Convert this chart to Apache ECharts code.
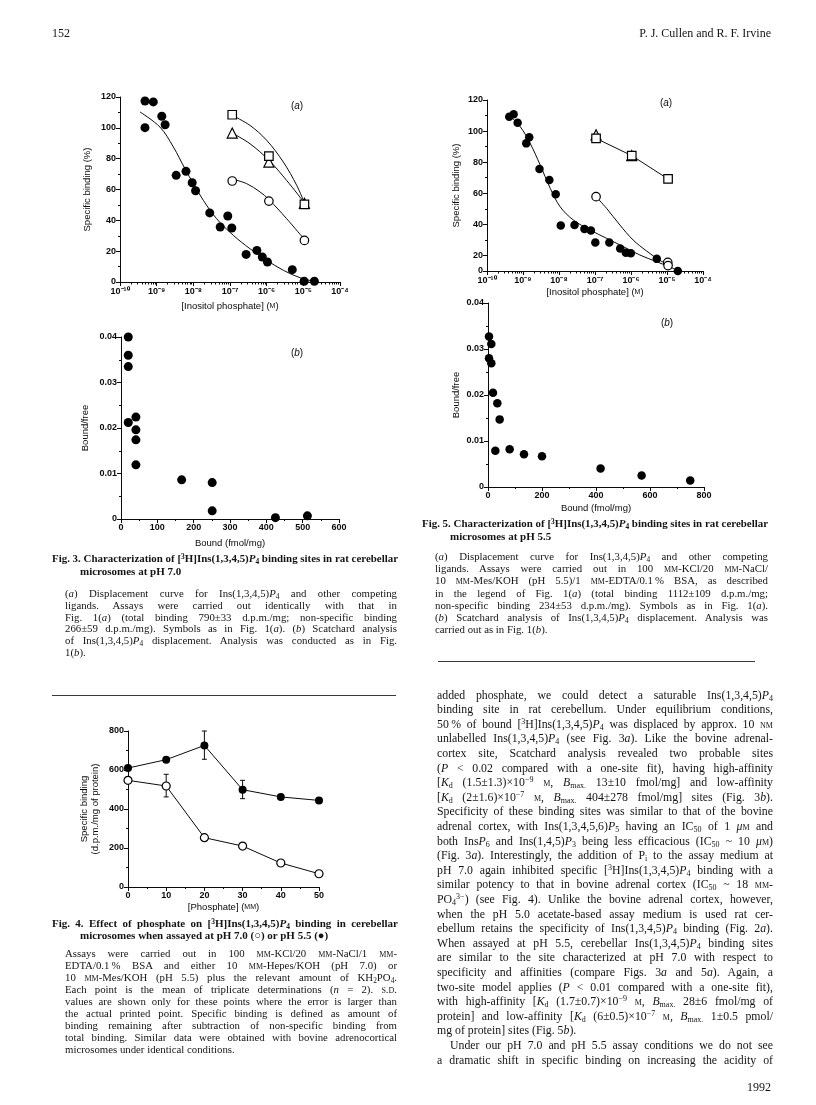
<!DOCTYPE html>
<html><head><meta charset="utf-8">
<script src="https://cdn.jsdelivr.net/npm/echarts@6/dist/echarts.min.js"></script>
<style>
html,body{margin:0;padding:0;background:#fff;}
#page{position:relative;width:816px;height:1105px;overflow:hidden;background:#fff;}
#chart{position:absolute;left:0;top:0;width:816px;height:1105px;}
#text{position:absolute;left:0;top:0;width:816px;height:1105px;pointer-events:none;}
.ln{position:absolute;white-space:nowrap;font-family:"Liberation Serif","Times New Roman",serif;color:#141414;line-height:14px;transform-origin:0 50%;}
.ln sub{font-size:0.68em;vertical-align:-0.28em;line-height:0;}
.ln sup{font-size:0.68em;vertical-align:0.45em;line-height:0;}
.sc{font-variant:small-caps;}
.rule{position:absolute;height:1px;background:#3a3a3a;}
</style></head>
<body><div id="page"><div id="chart"></div><div id="text"></div></div>
<script>
// ---------------- DATA ----------------
// Fig. 3(a) pH 7.0 displacement (concentration in M, specific binding %)
const f3aInsP4X = [4.8e-10, 8.1e-10, 4.8e-10, 1.38e-9, 1.7e-9, 3.4e-9, 6.3e-9, 9.3e-9, 1.15e-8, 2.8e-8, 5.4e-8, 8.7e-8, 1.12e-7, 2.75e-7, 5.4e-7, 7.6e-7, 1.05e-6, 5.0e-6, 1.05e-5, 2.0e-5];
const f3aInsP4Y = [117.4, 116.8, 100.1, 107.5, 102, 69.2, 71.8, 64.4, 59.2, 44.8, 35.7, 42.8, 35, 17.9, 20.5, 16.2, 13, 8, 0.5, 0.5];
const f3aInsP4FitX = [3.5e-10, 1.23e-9, 2.85e-9, 5.9e-9, 1e-8, 1.87e-8, 4.3e-8, 1.23e-7, 3.5e-7, 1e-6, 2.85e-6, 8.1e-6, 2.3e-5];
const f3aInsP4FitY = [110.3, 100.5, 87.6, 73.5, 63.8, 53, 41.1, 30.3, 21.6, 14.1, 7.6, 2.8, 0];
const f3aSquareX = [1.15e-7, 1.15e-6, 1.07e-5];
const f3aSquareY = [108.5, 81.7, 50.4];
const f3aSquareFitX = [1.23e-7, 3.5e-7, 1e-6, 2.85e-6, 6.6e-6, 1.06e-5];
const f3aSquareFitY = [107.7, 101.6, 91.9, 77.8, 62.7, 51.5];
const f3aTriX = [1.15e-7, 1.15e-6, 1.07e-5];
const f3aTriY = [96.6, 77.8, 51];
const f3aTriFitX = [1.23e-7, 3.5e-7, 1.16e-6, 3.5e-6, 1.06e-5];
const f3aTriFitY = [96.2, 89.7, 78.9, 65.9, 51.5];
const f3aCircX = [1.15e-7, 1.15e-6, 1.07e-5];
const f3aCircY = [65.5, 52.5, 27];
const f3aCircFitX = [1.29e-7, 2.85e-7, 6.6e-7, 1.16e-6, 3.5e-6, 1.06e-5];
const f3aCircFitY = [66.4, 63.8, 58.4, 53.4, 41.1, 27.7];

// Fig. 3(b) Scatchard pH 7.0
const f3bBound = [20, 20, 20, 20, 41, 41, 41, 41, 167, 251, 251, 425, 513];
const f3bRatio = [0.0400, 0.0360, 0.0335, 0.0212, 0.0224, 0.0196, 0.0174, 0.0119, 0.0086, 0.0080, 0.0018, 0.0003, 0.0007];

// Fig. 5(a) pH 5.5 displacement
const f5aInsP4X = [4.15e-10, 5.5e-10, 7.1e-10, 1.23e-9, 1.49e-9, 2.87e-9, 5.4e-9, 8.1e-9, 1.12e-8, 2.7e-8, 5.1e-8, 7.7e-8, 1.02e-7, 2.5e-7, 5.0e-7, 7.2e-7, 9.9e-7, 5.2e-6, 2.0e-5];
const f5aInsP4Y = [109.3, 110.8, 105.4, 92.1, 96, 75.6, 68.5, 59.3, 39.2, 39.6, 37, 36, 28.3, 28.3, 24.4, 21.8, 21.4, 17.8, 10];
const f5aInsP4FitX = [4e-10, 8.4e-10, 1.58e-9, 3e-9, 5.7e-9, 1.07e-8, 2.5e-8, 7.3e-8, 2.1e-7, 6.1e-7, 1.76e-6, 5.1e-6, 1.48e-5, 2e-5];
const f5aInsP4FitY = [110.4, 102.8, 92.1, 78.2, 63.2, 51.4, 42.8, 36.4, 31, 25.7, 20.3, 16, 11.7, 10];
const f5aSquareX = [1.07e-7, 1.05e-6, 1.07e-5];
const f5aSquareY = [95.3, 84.2, 69.2];
const f5aTriX = [1.07e-7, 1.05e-6];
const f5aTriY = [97.6, 84.2];
const f5aCircX = [1.07e-7, 1.05e-5, 1.07e-5];
const f5aCircY = [57.8, 15.5, 13.5];
const f5aCircFitX = [1.07e-7, 2.1e-7, 4.9e-7, 1.15e-6, 2.7e-6, 6.3e-6, 1.05e-5];
const f5aCircFitY = [57.8, 50.3, 39.6, 29.9, 22.9, 16.9, 14.3];

// Fig. 5(b) Scatchard pH 5.5
const f5bBound = [3.7, 12.3, 3.7, 12.3, 18.5, 34.6, 43.2, 27.2, 80.2, 133.3, 200, 417, 569, 749];
const f5bRatio = [0.0327, 0.0311, 0.0280, 0.0269, 0.0205, 0.0182, 0.0147, 0.0079, 0.0082, 0.0071, 0.0067, 0.0040, 0.0025, 0.0014];

// Fig. 4 phosphate effect
const phosphate = [0, 10, 20, 30, 40, 50];
const bindingPH55 = [610, 653, 726, 499, 462, 444];
const bindingPH70 = [547, 518, 253, 210, 123, 68];
const errPH55 = [[20, 655, 800], [30, 453, 547]];
const errPH70 = [[10, 462, 578]];

// tick labels
const logTickExponents = [-10, -9, -8, -7, -6, -5, -4];
const f5aYTicks = [10, 20, 40, 60, 80, 100, 120];
const f5aYTickLabels = ['0', '20', '40', '60', '80', '100', '120'];
const f5aYMinor = [30, 50, 70, 90, 110];

// ---------------- CHART ----------------
const FONT = '"Liberation Sans", Arial, sans-serif';
const INK = '#0a0a0a';
const SUP = {'-':'\u207B','0':'\u2070','1':'\u00B9','2':'\u00B2','3':'\u00B3','4':'\u2074','5':'\u2075','6':'\u2076','7':'\u2077','8':'\u2078','9':'\u2079'};
function pow10Label(v){ const n = Math.round(v); return '10' + String(n).split('').map(c => SUP[c]).join(''); }
const logMinor = [];
for (let e = -10; e < -4; e++) for (let k = 2; k <= 9; k++) logMinor.push(e + Math.log10(k));
const lg = a => a.map(v => Math.log10(v));
const pts = (xs, ys) => xs.map((x, i) => [x, ys[i]]);

function axisBase(gi, extra) {
  const base = {
    gridIndex: gi, type: 'value',
    axisLine: {show: true, onZero: false, lineStyle: {color: INK, width: 1}},
    axisTick: {show: true, length: 4, lineStyle: {color: INK, width: 1}},
    minorTick: {show: false},
    splitLine: {show: false},
    axisLabel: {color: INK, fontFamily: FONT, fontSize: 9, fontWeight: 'bold', margin: 4},
    nameLocation: 'middle',
    nameTextStyle: {color: INK, fontFamily: FONT, fontSize: 9.5,
      rich: {sc: {fontSize: 7, fontFamily: FONT, color: INK}}}
  };
  for (const k in extra) {
    if (base[k] && typeof base[k] === 'object' && !Array.isArray(base[k]) && extra[k] && typeof extra[k] === 'object' && !Array.isArray(extra[k])) base[k] = Object.assign({}, base[k], extra[k]);
    else base[k] = extra[k];
  }
  return base;
}
const minorT = {show: true, splitNumber: 2, length: 2, lineStyle: {color: INK, width: 1}};

const xAxis = [
  axisBase(0, {position: 'bottom', min: -10, max: -4, interval: 1, axisLabel: {formatter: pow10Label, margin: 5}, name: '[Inositol phosphate] ({sc|M})', nameGap: 19}),
  axisBase(0, {position: 'bottom', min: -10, max: -4, axisLine: {show: false}, axisLabel: {show: false}, axisTick: {customValues: logMinor, length: 2.5}}),
  axisBase(1, {position: 'bottom', min: 0, max: 600, interval: 100, minorTick: minorT, name: 'Bound (fmol/mg)', nameGap: 19}),
  axisBase(2, {position: 'bottom', min: -10, max: -4, interval: 1, axisLabel: {formatter: pow10Label, margin: 5}, name: '[Inositol phosphate] ({sc|M})', nameGap: 16}),
  axisBase(2, {position: 'bottom', min: -10, max: -4, axisLine: {show: false}, axisLabel: {show: false}, axisTick: {customValues: logMinor, length: 2.5}}),
  axisBase(3, {position: 'bottom', min: 0, max: 800, interval: 200, minorTick: minorT, name: 'Bound (fmol/mg)', nameGap: 16}),
  axisBase(4, {position: 'bottom', min: 0, max: 50, interval: 10, minorTick: minorT, name: '[Phosphate] ({sc|MM})', nameGap: 15})
];
const yAxis = [
  axisBase(0, {position: 'left', min: 0, max: 120, interval: 20, minorTick: minorT, name: 'Specific binding (%)', nameGap: 28}),
  axisBase(1, {position: 'left', min: 0, max: 0.04, interval: 0.01, minorTick: minorT, name: 'Bound/free', nameGap: 31}),
  axisBase(2, {position: 'left', min: 10, max: 120, axisTick: {customValues: f5aYTicks},
    axisLabel: {customValues: f5aYTicks, formatter: v => f5aYTickLabels[f5aYTicks.indexOf(v)] ?? String(v)},
    name: 'Specific binding (%)', nameGap: 26}),
  axisBase(2, {position: 'left', min: 10, max: 120, axisLine: {show: false}, axisLabel: {show: false}, axisTick: {customValues: f5aYMinor, length: 2}}),
  axisBase(3, {position: 'left', min: 0, max: 0.04, interval: 0.01, minorTick: minorT, name: 'Bound/free', nameGap: 27}),
  axisBase(4, {position: 'left', min: 0, max: 800, interval: 200, minorTick: minorT, name: 'Specific binding\n(d.p.m./mg of protein)', nameGap: 27,
    nameTextStyle: {lineHeight: 11}})
];

const grid = [
  {left: 120, top: 97, width: 220, height: 185},
  {left: 121, top: 337, width: 218, height: 182},
  {left: 487, top: 100, width: 216, height: 171},
  {left: 488, top: 303, width: 216, height: 184},
  {left: 128, top: 731, width: 191, height: 156}
].map(g => Object.assign({outerBoundsMode: 'none', containLabel: false}, g));

const filled = (xi, yi, data, size) => ({type: 'scatter', xAxisIndex: xi, yAxisIndex: yi, data, symbol: 'circle', symbolSize: size, itemStyle: {color: '#000', opacity: 1}, z: 5, silent: true});
const open = (xi, yi, data, sym, size) => ({type: 'scatter', xAxisIndex: xi, yAxisIndex: yi, data, symbol: sym, symbolSize: size, itemStyle: {color: '#fff', borderColor: '#000', borderWidth: 1.2, opacity: 1}, z: 6, silent: true});
const curve = (xi, yi, data, smooth) => ({type: 'line', xAxisIndex: xi, yAxisIndex: yi, data, showSymbol: false, symbol: 'none', smooth: smooth, lineStyle: {color: INK, width: 1}, z: 3, silent: true});

function errSeries(xi, yi, data) {
  return {type: 'custom', xAxisIndex: xi, yAxisIndex: yi, data, z: 2, silent: true,
    renderItem(params, api) {
      const x = api.value(0), lo = api.value(1), hi = api.value(2);
      const p1 = api.coord([x, lo]), p2 = api.coord([x, hi]);
      const c = 2.5, st = {stroke: INK, lineWidth: 1};
      return {type: 'group', children: [
        {type: 'line', shape: {x1: p1[0], y1: p1[1], x2: p2[0], y2: p2[1]}, style: st},
        {type: 'line', shape: {x1: p1[0] - c, y1: p1[1], x2: p1[0] + c, y2: p1[1]}, style: st},
        {type: 'line', shape: {x1: p2[0] - c, y1: p2[1], x2: p2[0] + c, y2: p2[1]}, style: st}
      ]};
    }};
}

const series = [
  // Fig 3a
  curve(0, 0, pts(lg(f3aInsP4FitX), f3aInsP4FitY), 0.35),
  curve(0, 0, pts(lg(f3aSquareFitX), f3aSquareFitY), 0.35),
  curve(0, 0, pts(lg(f3aTriFitX), f3aTriFitY), 0.35),
  curve(0, 0, pts(lg(f3aCircFitX), f3aCircFitY), 0.35),
  filled(0, 0, pts(lg(f3aInsP4X), f3aInsP4Y), 9),
  open(0, 0, pts(lg(f3aTriX), f3aTriY), 'triangle', 10),
  open(0, 0, pts(lg(f3aCircX), f3aCircY), 'circle', 8.5),
  open(0, 0, pts(lg(f3aSquareX), f3aSquareY), 'rect', 8.5),
  // Fig 3b
  filled(2, 1, pts(f3bBound, f3bRatio), 9),
  // Fig 5a
  curve(3, 2, pts(lg(f5aInsP4FitX), f5aInsP4FitY), 0.35),
  curve(3, 2, pts(lg(f5aCircFitX), f5aCircFitY), 0.35),
  curve(3, 2, pts(lg(f5aSquareX), f5aSquareY), false),
  filled(3, 2, pts(lg(f5aInsP4X), f5aInsP4Y), 8.5),
  open(3, 2, pts(lg(f5aTriX), f5aTriY), 'triangle', 10),
  open(3, 2, pts(lg(f5aSquareX), f5aSquareY), 'rect', 8.5),
  open(3, 2, pts(lg(f5aCircX), f5aCircY), 'circle', 8.5),
  // Fig 5b
  filled(5, 4, pts(f5bBound, f5bRatio), 8.5),
  // Fig 4
  errSeries(6, 5, errPH55),
  errSeries(6, 5, errPH70),
  curve(6, 5, pts(phosphate, bindingPH55), false),
  curve(6, 5, pts(phosphate, bindingPH70), false),
  filled(6, 5, pts(phosphate, bindingPH55), 8),
  open(6, 5, pts(phosphate, bindingPH70), 'circle', 8)
];

function panelTag(x, y, letter) {
  return {type: 'text', x, y, silent: true, style: {text: '({i|' + letter + '})', fill: INK, font: '10px ' + FONT,
    align: 'center', verticalAlign: 'middle', rich: {i: {fontStyle: 'italic', fontSize: 10, fontFamily: FONT, fill: INK}}}};
}

const chart = echarts.init(document.getElementById('chart'), null, {renderer: 'canvas', width: 816, height: 1105});
chart.setOption({
  animation: false,
  backgroundColor: 'transparent',
  grid, xAxis, yAxis, series,
  graphic: [panelTag(297, 106, 'a'), panelTag(297, 353, 'b'), panelTag(666, 103, 'a'), panelTag(667, 323, 'b')]
});

// ---------------- TEXT ----------------
const textRoot = document.getElementById('text');
function addLine(x, y, w, html, o) {
  o = o || {};
  const d = document.createElement('div');
  d.className = 'ln';
  d.innerHTML = html;
  d.style.fontSize = (o.size || 11) + 'px';
  if (o.bold) d.style.fontWeight = 'bold';
  d.style.top = (y - 7) + 'px';
  d.style.left = x + 'px';
  textRoot.appendChild(d);
  const nat = d.getBoundingClientRect().width;
  if (o.right) { d.style.left = (x - nat) + 'px'; return; }
  if (w) {
    if (o.justify) {
      const spaces = (d.textContent.match(/ /g) || []).length;
      if (nat < w && spaces > 0) d.style.wordSpacing = ((w - nat) / spaces) + 'px';
    }
    if (nat > w) d.style.transform = 'scaleX(' + (w / nat) + ')';
  }
}
function addBlock(x, y0, dy, w, lines, o) {
  lines.forEach((h, i) => {
    const ind = (o.indent && o.indent[i]) || 0;
    const noJ = (o.noJustify && o.noJustify.includes(i)) || i === lines.length - 1 && !o.justifyLast;
    addLine(x + ind, y0 + i * dy, w - ind, h, Object.assign({}, o, {justify: !noJ}));
  });
}
function rule(x1, x2, y) {
  const r = document.createElement('div');
  r.className = 'rule';
  r.style.left = x1 + 'px'; r.style.width = (x2 - x1) + 'px'; r.style.top = y + 'px';
  textRoot.appendChild(r);
}
const P4 = '<i>P</i><sub>4</sub>';
const SC = t => '<span class="sc">' + t + '</span>';

// header / footer
addLine(52, 33, 0, '152', {size: 12});
addLine(771, 33, 0, 'P. J. Cullen and R. F. Irvine', {size: 12, right: true});
addLine(771, 1087, 0, '1992', {size: 12, right: true});

// Fig. 3 caption
addLine(52, 558, 346, 'Fig. 3. Characterization of [<sup>3</sup>H]Ins(1,3,4,5)' + P4 + ' binding sites in rat cerebellar', {bold: true, size: 11, justify: true});
addLine(80, 571, 0, 'microsomes at pH 7.0', {bold: true, size: 11});
const fig3Caption = [
  '(<i>a</i>) Displacement curve for Ins(1,3,4,5)' + P4 + ' and other competing',
  'ligands. Assays were carried out identically with that in',
  'Fig. 1(<i>a</i>) (total binding 790±33 d.p.m./mg; non-specific binding',
  '266±59 d.p.m./mg). Symbols as in Fig. 1(<i>a</i>). (<i>b</i>) Scatchard analysis',
  'of Ins(1,3,4,5)' + P4 + ' displacement. Analysis was conducted as in Fig.',
  '1(<i>b</i>).'
];
addBlock(65, 593, 11.8, 332, fig3Caption, {size: 10.8});

// Fig. 5 caption
addLine(422, 523, 346, 'Fig. 5. Characterization of [<sup>3</sup>H]Ins(1,3,4,5)' + P4 + ' binding sites in rat cerebellar', {bold: true, size: 11, justify: true});
addLine(450, 536, 0, 'microsomes at pH 5.5', {bold: true, size: 11});
const fig5Caption = [
  '(<i>a</i>) Displacement curve for Ins(1,3,4,5)' + P4 + ' and other competing',
  'ligands. Assays were carried out in 100 ' + SC('mm') + '-KCl/20 ' + SC('mm') + '-NaCl/',
  '10 ' + SC('mm') + '-Mes/KOH (pH 5.5)/1 ' + SC('mm') + '-EDTA/0.1&#8201;% BSA, as described',
  'in the legend of Fig. 1(<i>a</i>) (total binding 1112±109 d.p.m./mg;',
  'non-specific binding 234±53 d.p.m./mg). Symbols as in Fig. 1(<i>a</i>).',
  '(<i>b</i>) Scatchard analysis of Ins(1,3,4,5)' + P4 + ' displacement. Analysis was',
  'carried out as in Fig. 1(<i>b</i>).'
];
addBlock(435, 556, 12.2, 333, fig5Caption, {size: 10.8});
rule(438, 755, 661);

// Fig. 4 caption
rule(52, 396, 695);
addLine(52, 922.5, 346, 'Fig. 4. Effect of phosphate on [<sup>3</sup>H]Ins(1,3,4,5)' + P4 + ' binding in cerebellar', {bold: true, size: 11, justify: true});
addLine(80, 934.5, 0, 'microsomes when assayed at pH 7.0 (○) or pH 5.5 (●)', {bold: true, size: 11});
const fig4Caption = [
  'Assays were carried out in 100 ' + SC('mm') + '-KCl/20 ' + SC('mm') + '-NaCl/1 ' + SC('mm') + '-',
  'EDTA/0.1&#8201;% BSA and either 10 ' + SC('mm') + '-Hepes/KOH (pH 7.0) or',
  '10 ' + SC('mm') + '-Mes/KOH (pH 5.5) plus the relevant amount of KH<sub>2</sub>PO<sub>4</sub>.',
  'Each point is the mean of triplicate determinations (<i>n</i> = 2). ' + SC('s.d.'),
  'values are shown only for these points where the error is larger than',
  'the actual printed point. Specific binding is defined as amount of',
  'binding remaining after subtraction of non-specific binding from',
  'total binding. Similar data were obtained with bovine adrenocortical',
  'microsomes under identical conditions.'
];
addBlock(65, 953, 12, 332, fig4Caption, {size: 10.8});

// main text (right column)
const KD = '<i>K</i><sub>d</sub>', BMAX = '<i>B</i><sub>max.</sub>', IC50 = 'IC<sub>50</sub>', M = SC('m');
const bodyText = [
  'added phosphate, we could detect a saturable Ins(1,3,4,5)' + P4,
  'binding site in rat cerebellum. Under equilibrium conditions,',
  '50&#8201;% of bound [<sup>3</sup>H]Ins(1,3,4,5)' + P4 + ' was displaced by approx. 10 ' + SC('nm'),
  'unlabelled Ins(1,3,4,5)' + P4 + ' (see Fig. 3<i>a</i>). Like the bovine adrenal-',
  'cortex site, Scatchard analysis revealed two probable sites',
  '(<i>P</i> &lt; 0.02 compared with a one-site fit), having high-affinity',
  '[' + KD + ' (1.5±1.3)×10<sup>−9</sup> ' + M + ', ' + BMAX + ' 13±10 fmol/mg] and low-affinity',
  '[' + KD + ' (2±1.6)×10<sup>−7</sup> ' + M + ', ' + BMAX + ' 404±278 fmol/mg] sites (Fig. 3<i>b</i>).',
  'Specificity of these binding sites was similar to that of the bovine',
  'adrenal cortex, with Ins(1,3,4,5,6)<i>P</i><sub>5</sub> having an ' + IC50 + ' of 1 <i>μ</i>' + M + ' and',
  'both Ins<i>P</i><sub>6</sub> and Ins(1,4,5)<i>P</i><sub>3</sub> being less efficacious (' + IC50 + ' ~ 10 <i>μ</i>' + M + ')',
  '(Fig. 3<i>a</i>). Interestingly, the addition of P<sub>i</sub> to the assay medium at',
  'pH 7.0 again inhibited specific [<sup>3</sup>H]Ins(1,3,4,5)' + P4 + ' binding with a',
  'similar potency to that in bovine adrenal cortex (' + IC50 + ' ~ 18 ' + SC('mm') + '-',
  'PO<sub>4</sub><sup>3−</sup>) (see Fig. 4). Unlike the bovine adrenal cortex, however,',
  'when the pH 5.0 acetate-based assay medium is used rat cer-',
  'ebellum retains the specificity of Ins(1,3,4,5)' + P4 + ' binding (Fig. 2<i>a</i>).',
  'When assayed at pH 5.5, cerebellar Ins(1,3,4,5)' + P4 + ' binding sites',
  'are similar to the site characterized at pH 7.0 with respect to',
  'specificity and affinities (compare Figs. 3<i>a</i> and 5<i>a</i>). Again, a',
  'two-site model applies (<i>P</i> &lt; 0.01 compared with a one-site fit),',
  'with high-affinity [' + KD + ' (1.7±0.7)×10<sup>−9</sup> ' + M + ', ' + BMAX + ' 28±6 fmol/mg of',
  'protein] and low-affinity [' + KD + ' (6±0.5)×10<sup>−7</sup> ' + M + ', ' + BMAX + ' 1±0.5 pmol/',
  'mg of protein] sites (Fig. 5<i>b</i>).',
  'Under our pH 7.0 and pH 5.5 assay conditions we do not see',
  'a dramatic shift in specific binding on increasing the acidity of'
];
addBlock(437, 694.5, 14.6, 336, bodyText, {size: 11.8, noJustify: [23], indent: {24: 13}, justifyLast: true});
</script>
</body></html>
